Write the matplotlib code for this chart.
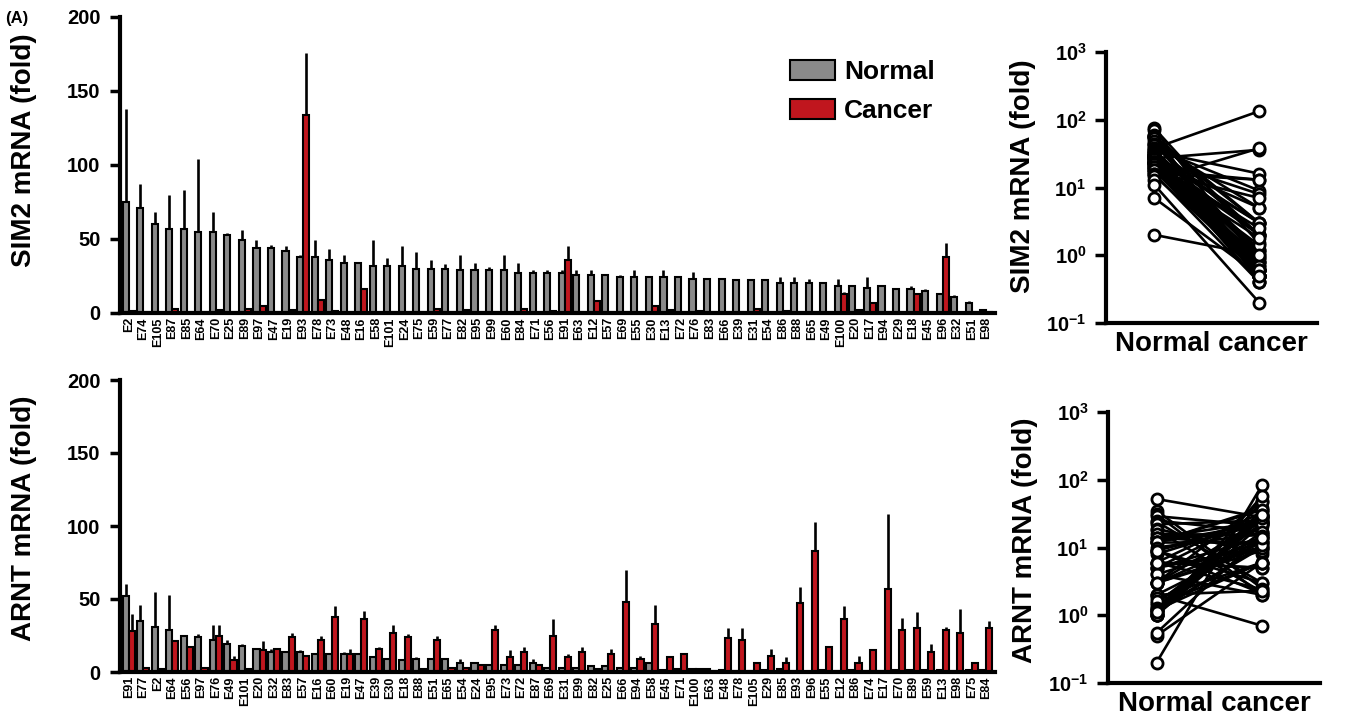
import numpy as np
from matplotlib import pyplot as plt
from matplotlib.patches import Patch
from matplotlib.ticker import FixedLocator, NullLocator

# Fonts - Arial look alike, bold everywhere
plt.rcParams['font.family'] = ['Liberation Sans', 'DejaVu Sans']
plt.rcParams['font.weight'] = 'bold'
plt.rcParams['mathtext.fontset'] = 'custom'
plt.rcParams['mathtext.rm'] = 'Liberation Sans:bold'
plt.rcParams['mathtext.it'] = 'Liberation Sans:bold'
plt.rcParams['mathtext.bf'] = 'Liberation Sans:bold'

GRAY = '#8a8a8a'
RED = '#c0161e'

# SIM2 data (top panel), samples sorted by normal level
sim2_labels = ['E2', 'E74', 'E105', 'E87', 'E85', 'E64', 'E70', 'E25', 'E89', 'E97',
               'E47', 'E19', 'E93', 'E78', 'E73', 'E48', 'E16', 'E58', 'E101', 'E24',
               'E75', 'E59', 'E77', 'E82', 'E95', 'E99', 'E60', 'E84', 'E71', 'E56',
               'E91', 'E63', 'E12', 'E57', 'E69', 'E55', 'E30', 'E13', 'E72', 'E76',
               'E83', 'E66', 'E39', 'E31', 'E54', 'E86', 'E88', 'E65', 'E49', 'E100',
               'E20', 'E17', 'E94', 'E29', 'E18', 'E45', 'E96', 'E32', 'E51', 'E98']
sim2_normal = [75, 71, 60, 57, 57, 55, 55, 53, 49, 44,
               44, 42, 38, 38, 36, 34, 34, 32, 32, 32,
               30, 30, 30, 29, 29, 29, 29, 27, 27, 27,
               27, 26, 26, 26, 24, 24, 24, 24, 24, 23,
               23, 23, 22, 22, 22, 20, 20, 20, 20, 18,
               18, 17, 18, 16, 16, 15, 13, 11, 7, 2]
sim2_normal_err = [63, 16, 8, 23, 26, 49, 13, 1, 7, 5,
                   2, 3, 1, 11, 7, 5, 0, 17, 5, 13,
                   11, 6, 3, 10, 5, 2, 10, 7, 2, 2,
                   2, 3, 3, 0, 2, 5, 0, 5, 0, 5,
                   0, 0, 1, 1, 1, 4, 4, 3, 1, 5,
                   1, 7, 1, 1, 2, 1, 0, 1, 1, 0]
sim2_cancer = [1.5, 0.8, 0.5, 3, 0.6, 0.5, 2, 0.4, 3, 5,
               0.9, 2, 134, 9, 1.2, 0.5, 16, 0.6, 0.5, 0.7,
               0.5, 3, 0.6, 2, 0.5, 0.8, 1.0, 3, 0.5, 1.1,
               36, 0.6, 8, 0.5, 0.9, 0.4, 5, 2, 0.6, 1.2,
               0.5, 0.8, 0.6, 2.5, 0.5, 1.4, 0.7, 0.5, 0.6, 13,
               1.8, 7, 0.5, 0.4, 13, 0.6, 38, 0.2, 0.5, 1.0]
sim2_cancer_err = [0, 0, 0, 0, 0, 0, 0, 0, 0, 0,
                   0, 0, 42, 0, 0, 0, 0, 0, 0, 0,
                   0, 0, 0, 0, 0, 0, 0, 0, 0, 0,
                   9, 0, 0, 0, 0, 0, 0, 0, 0, 0,
                   0, 0, 0, 0, 0, 0, 0, 0, 0, 1,
                   0, 0, 0, 0, 0, 0, 9, 0, 0, 0]

# ARNT data (bottom panel)
arnt_labels = ['E91', 'E77', 'E2', 'E64', 'E56', 'E97', 'E76', 'E49', 'E101', 'E20',
               'E32', 'E83', 'E57', 'E16', 'E60', 'E19', 'E47', 'E39', 'E30', 'E18',
               'E88', 'E51', 'E65', 'E54', 'E24', 'E95', 'E73', 'E72', 'E87', 'E69',
               'E31', 'E99', 'E82', 'E25', 'E66', 'E94', 'E58', 'E45', 'E71', 'E100',
               'E63', 'E48', 'E78', 'E105', 'E29', 'E85', 'E93', 'E96', 'E55', 'E12',
               'E86', 'E74', 'E17', 'E70', 'E89', 'E59', 'E13', 'E98', 'E75', 'E84']
arnt_normal = [52, 35, 31, 29, 25, 24, 22, 19, 18, 16,
               14, 14, 14, 12, 12, 12, 12, 10, 9, 8,
               9, 9, 9, 6, 6, 5, 5, 5, 6, 3,
               3, 3, 4, 4, 3, 3, 6, 1.2, 2, 2,
               2, 1.5, 1.0, 0.5, 1.1, 1.8, 1.0, 0.2, 1.3, 1.0,
               1.4, 0.55, 1.0, 1.2, 1.1, 1.6, 1.3, 1.0, 1.2, 1.1]
arnt_normal_err = [8, 11, 24, 24, 0, 2, 10, 3, 1, 0,
                   2, 0, 1, 0, 0, 2, 0, 0, 0, 0,
                   1, 0, 0, 3, 0, 0, 0, 0, 3, 0,
                   0, 0, 0, 0, 0, 0, 0, 0, 0, 0,
                   0, 0, 0, 0, 0, 0, 0, 0, 0, 0,
                   0, 0, 0, 0, 0, 0, 0, 0, 0, 0]
arnt_cancer = [28, 2.5, 2, 21, 17, 3, 25, 8, 2.2, 15,
               16, 24, 11, 22, 38, 12, 36, 16, 27, 24,
               2.1, 22, 3, 2.4, 5, 29, 10, 14, 5, 25,
               10, 14, 2, 12, 48, 9, 33, 10, 12, 2.3,
               0.7, 23, 22, 6, 11, 6, 47, 83, 17, 36,
               6, 15, 57, 29, 30, 14, 29, 27, 6, 30]
arnt_cancer_err = [12, 0, 0, 0, 0, 0, 7, 3, 0, 6,
                   0, 3, 0, 3, 7, 4, 6, 1, 5, 2,
                   0, 3, 0, 0, 0, 3, 5, 3, 0, 11,
                   2, 3, 0, 4, 22, 2, 13, 0, 1, 0,
                   0, 7, 8, 0, 5, 4, 11, 20, 0, 9,
                   5, 0, 51, 8, 11, 5, 2, 16, 1, 5]


def draw_bars(ax, labels, normal, normal_err, cancer, cancer_err, ylabel, label_y):
    x = np.arange(len(labels))
    w = 0.42
    zeros = np.zeros(len(labels))
    ax.bar(x - w / 2, normal, w, color=GRAY, edgecolor='black', linewidth=1.5,
           yerr=[zeros, normal_err], error_kw=dict(ecolor='black', elinewidth=1.9, capsize=0), zorder=2)
    ax.bar(x + w / 2, cancer, w, color=RED, edgecolor='black', linewidth=1.5,
           yerr=[zeros, cancer_err], error_kw=dict(ecolor='black', elinewidth=1.9, capsize=0), zorder=2)
    ax.set_xlim(-0.6, len(labels) - 0.4)
    ax.set_ylim(0, 200)
    ax.set_yticks([0, 50, 100, 150, 200])
    ax.set_xticks(x)
    ax.set_xticklabels(labels, rotation=90, fontsize=9, fontweight='bold')
    ax.tick_params(axis='x', length=0, pad=3)
    ax.tick_params(axis='y', direction='out', length=7, width=2.5, pad=7, labelsize=14.5)
    for side in ['top', 'right']:
        ax.spines[side].set_visible(False)
    for side in ['left', 'bottom']:
        ax.spines[side].set_linewidth(3)
    ax.set_ylabel(ylabel, fontsize=20, fontweight='bold')
    ax.yaxis.set_label_coords(-0.095, label_y)


def draw_pairs(ax, normal, cancer, ylabel, label_y):
    # One line per sample from normal to cancer
    for n, c in zip(normal, cancer):
        ax.plot([0, 1], [n, c], color='black', linewidth=1.9, zorder=2)
    ax.plot(np.zeros(len(normal)), normal, 'o', mfc='white', mec='black', ms=8, mew=2, zorder=3)
    ax.plot(np.ones(len(cancer)), cancer, 'o', mfc='white', mec='black', ms=8, mew=2, zorder=3)
    ax.set_yscale('log')
    ax.set_ylim(0.1, 1000)
    ax.set_xlim(-0.46, 1.55)
    ax.yaxis.set_major_locator(FixedLocator([0.1, 1, 10, 100, 1000]))
    ax.yaxis.set_minor_locator(NullLocator())
    ax.set_yticklabels([r'$10^{-1}$', r'$10^{0}$', r'$10^{1}$', r'$10^{2}$', r'$10^{3}$'])
    ax.set_xticks([])
    ax.tick_params(axis='y', direction='out', length=8, width=2.5, pad=6, labelsize=14.5)
    for side in ['top', 'right']:
        ax.spines[side].set_visible(False)
    for side in ['left', 'bottom']:
        ax.spines[side].set_linewidth(3)
    ax.set_xlabel('Normal cancer', fontsize=20, fontweight='bold', labelpad=6)
    ax.set_ylabel(ylabel, fontsize=20, fontweight='bold')
    ax.yaxis.set_label_coords(-0.33, label_y)


fig = plt.figure(figsize=(13.5, 7.2), dpi=100)
ax1 = fig.add_axes([120 / 1350, 1 - 313 / 720, 875 / 1350, 296 / 720])
ax2 = fig.add_axes([120 / 1350, 1 - 672 / 720, 875 / 1350, 292 / 720])
ax3 = fig.add_axes([1106 / 1350, 1 - 323 / 720, 211 / 1350, 271 / 720])
ax4 = fig.add_axes([1108 / 1350, 1 - 683 / 720, 212 / 1350, 271 / 720])

draw_bars(ax1, sim2_labels, sim2_normal, sim2_normal_err, sim2_cancer, sim2_cancer_err,
          'SIM2 mRNA (fold)', 0.55)
draw_bars(ax2, arnt_labels, arnt_normal, arnt_normal_err, arnt_cancer, arnt_cancer_err,
          'ARNT mRNA (fold)', 0.525)
draw_pairs(ax3, sim2_normal, sim2_cancer, 'SIM2 mRNA (fold)', 0.54)
draw_pairs(ax4, arnt_normal, arnt_cancer, 'ARNT mRNA (fold)', 0.525)

# Legend in the top bar chart
handles = [Patch(facecolor=GRAY, edgecolor='black', linewidth=1.5, label='Normal'),
           Patch(facecolor=RED, edgecolor='black', linewidth=1.5, label='Cancer')]
ax1.legend(handles=handles, loc='upper left', bbox_to_anchor=(0.766, 0.855), frameon=False,
           prop=dict(size=19, weight='bold'), handlelength=1.7, handleheight=0.8,
           handletextpad=0.35, labelspacing=0.55, borderpad=0, borderaxespad=0)

fig.text(0.004, 0.985, '(A)', fontsize=12, fontweight='bold', va='top', ha='left')

plt.savefig('out.png', dpi=100)
